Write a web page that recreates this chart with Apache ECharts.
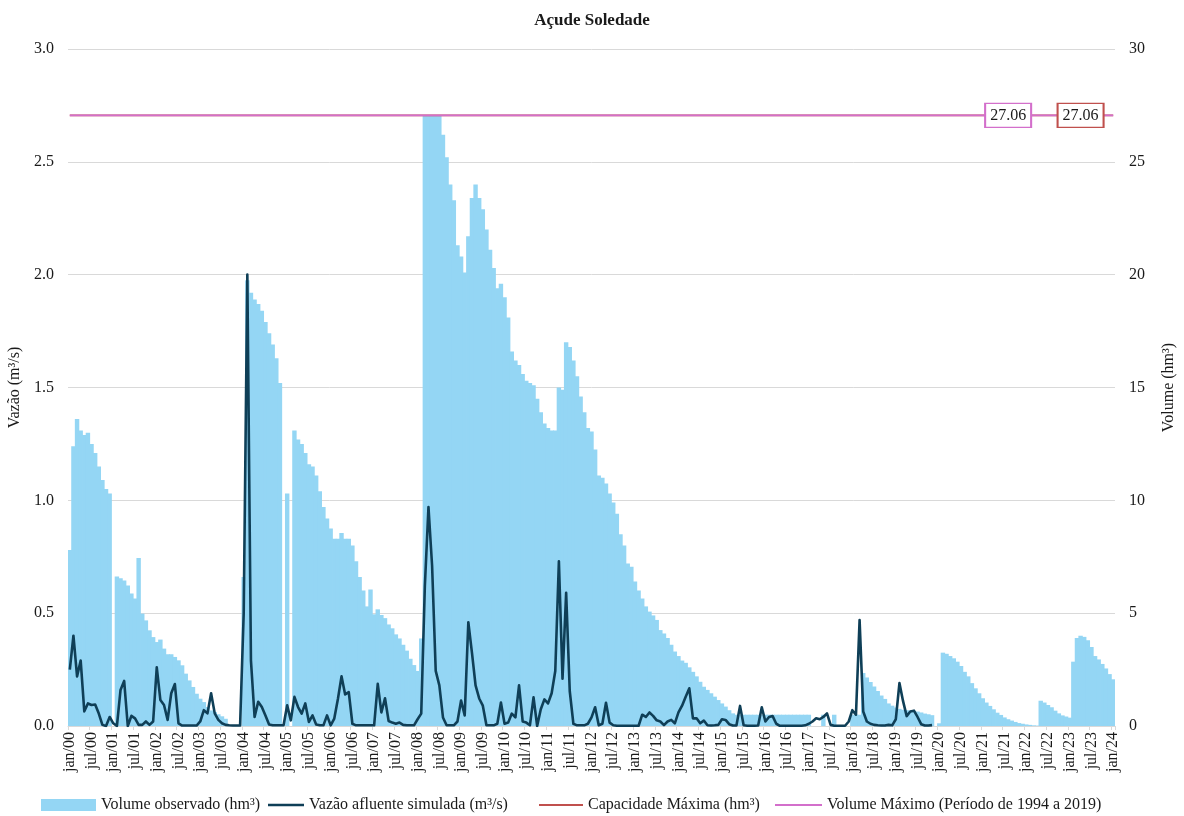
<!DOCTYPE html>
<html>
<head>
<meta charset="utf-8">
<title>Açude Soledade</title>
<script src="https://cdn.jsdelivr.net/npm/echarts@6/dist/echarts.min.js"></script>
<style>
  html, body { margin: 0; padding: 0; background: #ffffff; }
  #chart { width: 1184px; height: 816px; }
</style>
</head>
<body>
<div id="chart"></div>
<script>
// Monthly series, jan/2000 .. jan/2024
const MONTHS = ['jan', 'fev', 'mar', 'abr', 'mai', 'jun', 'jul', 'ago', 'set', 'out', 'nov', 'dez'];
const FIRST_YEAR = 2000;
const LAST_YEAR = 2024;

const categories = [];
for (let y = FIRST_YEAR; y <= LAST_YEAR; y++) {
  for (let m = 0; m < 12; m++) {
    if (y === LAST_YEAR && m > 0) break;
    categories.push(MONTHS[m] + '/' + String(y % 100).padStart(2, '0'));
  }
}

// Volume observado (hm³), one value per month
const volumeObservado = [
  // 2000
  7.8, 12.4, 13.6, 13.1, 12.9, 13.0, 12.5, 12.1, 11.5, 10.9, 10.5, 10.3,
  // 2001
  0, 6.63, 6.55, 6.45, 6.23, 5.87, 5.65, 7.45, 4.98, 4.68, 4.24, 3.94,
  // 2002
  3.72, 3.83, 3.43, 3.18, 3.18, 3.06, 2.91, 2.69, 2.32, 2.02, 1.73, 1.43,
  // 2003
  1.21, 1.06, 0.84, 0.69, 0.62, 0.52, 0.43, 0.32, 0, 0, 0, 0,
  // 2004
  6.6, 19.75, 19.2, 18.9, 18.7, 18.4, 17.9, 17.4, 16.9, 16.3, 15.2, 0,
  // 2005
  10.3, 0, 13.1, 12.7, 12.5, 12.1, 11.6, 11.5, 11.1, 10.4, 9.7, 9.2,
  // 2006
  8.75, 8.3, 8.3, 8.55, 8.3, 8.3, 8.0, 7.3, 6.6, 6.0, 5.3, 6.05,
  // 2007
  4.95, 5.17, 4.92, 4.78, 4.5, 4.33, 4.06, 3.88, 3.6, 3.34, 2.98, 2.7,
  // 2008
  2.44, 3.88, 27.06, 27.06, 27.06, 27.06, 27.06, 26.2, 25.2, 24.0, 23.3, 21.3,
  // 2009
  20.8, 20.1, 21.7, 23.4, 24.0, 23.4, 22.9, 22.0, 21.1, 20.3, 19.4, 19.6,
  // 2010
  19.0, 18.1, 16.6, 16.2, 16.0, 15.6, 15.3, 15.2, 15.1, 14.5, 13.9, 13.4,
  // 2011
  13.2, 13.1, 13.1, 15.0, 14.9, 17.0, 16.8, 16.2, 15.5, 14.6, 13.9, 13.2,
  // 2012
  13.05, 12.25, 11.1, 11.0, 10.75, 10.3, 9.9, 9.4, 8.5, 8.0, 7.2, 7.06,
  // 2013
  6.4, 6.0, 5.65, 5.3, 5.07, 4.9, 4.7, 4.25, 4.1, 3.9, 3.6, 3.3,
  // 2014
  3.1, 2.9, 2.8, 2.6, 2.4, 2.2, 1.96, 1.74, 1.6, 1.45, 1.3, 1.15,
  // 2015
  1.0, 0.86, 0.7, 0.56, 0.5, 0.5, 0.5, 0.5, 0.5, 0.5, 0.5, 0.5,
  // 2016
  0.5, 0.5, 0.5, 0.5, 0.5, 0.5, 0.5, 0.5, 0.5, 0.5, 0.5, 0.5,
  // 2017
  0.5, 0, 0, 0, 0.5, 0, 0, 0.5, 0, 0, 0, 0,
  // 2018
  0.5, 0.5, 0.5, 2.35, 2.15, 1.95, 1.75, 1.55, 1.35, 1.2, 1.0, 0.9,
  // 2019
  0.82, 0.76, 0.72, 0.7, 0.68, 0.66, 0.64, 0.6, 0.55, 0.52, 0.48, 0,
  // 2020
  0.12, 3.25, 3.2, 3.1, 3.0, 2.85, 2.66, 2.4, 2.2, 1.9, 1.67, 1.45,
  // 2021
  1.23, 1.04, 0.89, 0.74, 0.59, 0.49, 0.38, 0.3, 0.24, 0.18, 0.13, 0.1,
  // 2022
  0.07, 0.05, 0.03, 0.02, 1.12, 1.04, 0.93, 0.83, 0.68, 0.56, 0.47, 0.42,
  // 2023
  0.37, 2.85, 3.9, 4.0, 3.95, 3.8, 3.5, 3.1, 2.95, 2.75, 2.55, 2.3,
  // 2024
  2.07
];

// Vazão afluente simulada (m³/s), simulated up to nov/2019
const vazaoSimulada = [
  // 2000
  0.25, 0.40, 0.22, 0.29, 0.065, 0.10, 0.093, 0.095, 0.055, 0.005, 0.0, 0.04,
  // 2001
  0.012, 0.0, 0.16, 0.20, 0.0, 0.045, 0.034, 0.005, 0.005, 0.02, 0.005, 0.02,
  // 2002
  0.26, 0.115, 0.093, 0.027, 0.145, 0.186, 0.012, 0.002, 0.002, 0.002, 0.002, 0.002,
  // 2003
  0.02, 0.07, 0.056, 0.145, 0.056, 0.027, 0.012, 0.005, 0.003, 0.002, 0.002, 0.002,
  // 2004
  0.5, 2.0, 0.29, 0.04, 0.107, 0.084, 0.047, 0.007, 0.003, 0.003, 0.003, 0.003,
  // 2005
  0.092, 0.025, 0.129, 0.084, 0.055, 0.1, 0.018, 0.047, 0.007, 0.003, 0.003, 0.047,
  // 2006
  0.003, 0.033, 0.12, 0.22, 0.14, 0.15, 0.01, 0.003, 0.003, 0.003, 0.003, 0.003,
  // 2007
  0.003, 0.187, 0.06, 0.123, 0.022, 0.015, 0.01, 0.015, 0.005, 0.003, 0.003, 0.003,
  // 2008
  0.03, 0.055, 0.62, 0.97, 0.71, 0.244, 0.18, 0.038, 0.003, 0.003, 0.003, 0.02,
  // 2009
  0.113, 0.047, 0.46, 0.325, 0.18, 0.122, 0.09, 0.003, 0.003, 0.003, 0.01, 0.104,
  // 2010
  0.01, 0.015, 0.055, 0.038, 0.18, 0.02, 0.015, 0.003, 0.127, 0.0, 0.074, 0.118,
  // 2011
  0.1, 0.145, 0.244, 0.73, 0.21, 0.59, 0.154, 0.01, 0.003, 0.003, 0.003, 0.01,
  // 2012
  0.038, 0.083, 0.003, 0.01, 0.103, 0.015, 0.003, 0.001, 0.001, 0.001, 0.001, 0.001,
  // 2013
  0.001, 0.001, 0.05, 0.04, 0.06, 0.045, 0.025, 0.02, 0.004, 0.02, 0.027, 0.012,
  // 2014
  0.06, 0.09, 0.13, 0.167, 0.034, 0.034, 0.012, 0.024, 0.003, 0.002, 0.003, 0.005,
  // 2015
  0.03, 0.027, 0.008, 0.002, 0.002, 0.089, 0.003, 0.001, 0.001, 0.001, 0.002, 0.083,
  // 2016
  0.02, 0.04, 0.044, 0.01, 0.001, 0.001, 0.001, 0.001, 0.001, 0.001, 0.001, 0.003,
  // 2017
  0.01, 0.02, 0.034, 0.03, 0.04, 0.056, 0.005, 0.001, 0.001, 0.001, 0.001, 0.02,
  // 2018
  0.07, 0.05, 0.47, 0.064, 0.02, 0.01, 0.005, 0.003, 0.002, 0.002, 0.005, 0.003,
  // 2019
  0.03, 0.19, 0.11, 0.044, 0.064, 0.068, 0.04, 0.008, 0.002, 0.002, 0.004
];

const capacidadeMaxima = 27.06;       // hm³
const volumeMaximo = 27.06;           // hm³ (1994–2019)
const capacidadeLabelMonth = 'abr/23';
const volumeMaximoLabelMonth = 'ago/21';

const leftTicks = { min: 0, max: 3, interval: 0.5 };
const rightTicks = { min: 0, max: 30, interval: 5 };

const SERIES_NAMES = [
  'Volume observado (hm³)',
  'Vazão afluente simulada (m³/s)',
  'Capacidade Máxima (hm³)',
  'Volume Máximo (Período de 1994 a 2019)'
];

const FONT = '"Liberation Serif", "Times New Roman", serif';
const TEXT = '#1a1a1a';
const BAR_COLOR = '#94d6f4';
const FLOW_COLOR = '#0f3f57';
const CAP_COLOR = '#c0504d';
const VMAX_COLOR = '#d36fcb';

// boxed value tag sitting on a reference level
function levelTag(month, value, color) {
  return {
    coord: [month, value],
    value: value.toFixed(2),
    itemStyle: { color: '#ffffff', borderColor: color, borderWidth: 1.5 }
  };
}

// one legend block per entry, laid out along the bottom edge
function legendEntry(name, left, iconWidth, icon) {
  return {
    data: [{ name: name, icon: icon }],
    left: left,
    top: 792,
    itemWidth: iconWidth,
    itemHeight: 12,
    selectedMode: false,
    textStyle: { fontFamily: FONT, fontSize: 16, color: TEXT }
  };
}

const chart = echarts.init(document.getElementById('chart'), null, { renderer: 'canvas' });

chart.setOption({
  animation: false,
  backgroundColor: '#ffffff',
  title: {
    text: 'Açude Soledade',
    left: 'center',
    top: 7,
    textStyle: { fontFamily: FONT, fontSize: 17, fontWeight: 'bold', color: TEXT }
  },
  grid: {
    left: 68, right: 69, top: 49, bottom: 90,
    containLabel: false,
    outerBoundsMode: 'none'
  },
  legend: [
    legendEntry(SERIES_NAMES[0], 36, 55, 'rect'),
    legendEntry(SERIES_NAMES[1], 263, 36, 'path://M0,0H36V2.6H0Z'),
    legendEntry(SERIES_NAMES[2], 534, 44, 'path://M0,0H44V2H0Z'),
    legendEntry(SERIES_NAMES[3], 770, 47, 'path://M0,0H47V2H0Z')
  ],
  xAxis: {
    type: 'category',
    data: categories,
    boundaryGap: true,
    axisLine: { lineStyle: { color: '#d9d9d9' } },
    axisTick: { show: true, interval: 5, length: 4, lineStyle: { color: '#d9d9d9' } },
    axisLabel: {
      interval: 5,
      rotate: 90,
      margin: 6,
      fontFamily: FONT,
      fontSize: 16,
      color: TEXT
    },
    splitLine: { show: false }
  },
  yAxis: [
    {
      type: 'value',
      min: leftTicks.min, max: leftTicks.max, interval: leftTicks.interval,
      name: 'Vazão (m³/s)',
      nameLocation: 'middle',
      nameGap: 44,
      nameRotate: 90,
      nameTextStyle: { fontFamily: FONT, fontSize: 16, color: TEXT },
      axisLine: { show: false },
      axisTick: { show: false },
      axisLabel: {
        fontFamily: FONT, fontSize: 16, color: TEXT, margin: 14,
        formatter: function (v) { return v.toFixed(1); }
      },
      splitLine: { show: true, lineStyle: { color: '#d9d9d9', width: 1 } }
    },
    {
      type: 'value',
      min: rightTicks.min, max: rightTicks.max, interval: rightTicks.interval,
      name: 'Volume (hm³)',
      nameLocation: 'middle',
      nameGap: 46,
      nameRotate: 90,
      nameTextStyle: { fontFamily: FONT, fontSize: 16, color: TEXT },
      axisLine: { show: false },
      axisTick: { show: false },
      axisLabel: { fontFamily: FONT, fontSize: 16, color: TEXT, margin: 14 },
      splitLine: { show: false }
    }
  ],
  series: [
    {
      name: SERIES_NAMES[0],
      type: 'bar',
      yAxisIndex: 1,
      data: volumeObservado,
      barWidth: '122%',
      barGap: '-100%',
      itemStyle: { color: BAR_COLOR },
      z: 1
    },
    {
      name: SERIES_NAMES[2],
      type: 'line',
      yAxisIndex: 1,
      data: categories.map(function () { return capacidadeMaxima; }),
      symbol: 'none',
      lineStyle: { color: CAP_COLOR, width: 1.6 },
      itemStyle: { color: CAP_COLOR },
      z: 3
    },
    {
      name: SERIES_NAMES[3],
      type: 'line',
      yAxisIndex: 1,
      data: categories.map(function () { return volumeMaximo; }),
      symbol: 'none',
      lineStyle: { color: VMAX_COLOR, width: 1.6 },
      itemStyle: { color: VMAX_COLOR },
      z: 4,
      markPoint: {
        symbol: 'rect',
        symbolSize: [46, 24],
        label: {
          show: true,
          position: 'inside',
          fontFamily: FONT,
          fontSize: 16,
          color: TEXT
        },
        data: [
          levelTag(volumeMaximoLabelMonth, volumeMaximo, VMAX_COLOR),
          levelTag(capacidadeLabelMonth, capacidadeMaxima, CAP_COLOR)
        ]
      }
    },
    {
      name: SERIES_NAMES[1],
      type: 'line',
      yAxisIndex: 0,
      data: vazaoSimulada,
      symbol: 'none',
      lineStyle: { color: FLOW_COLOR, width: 2.6, join: 'round' },
      itemStyle: { color: FLOW_COLOR },
      z: 5
    }
  ]
});
</script>
</body>
</html>
